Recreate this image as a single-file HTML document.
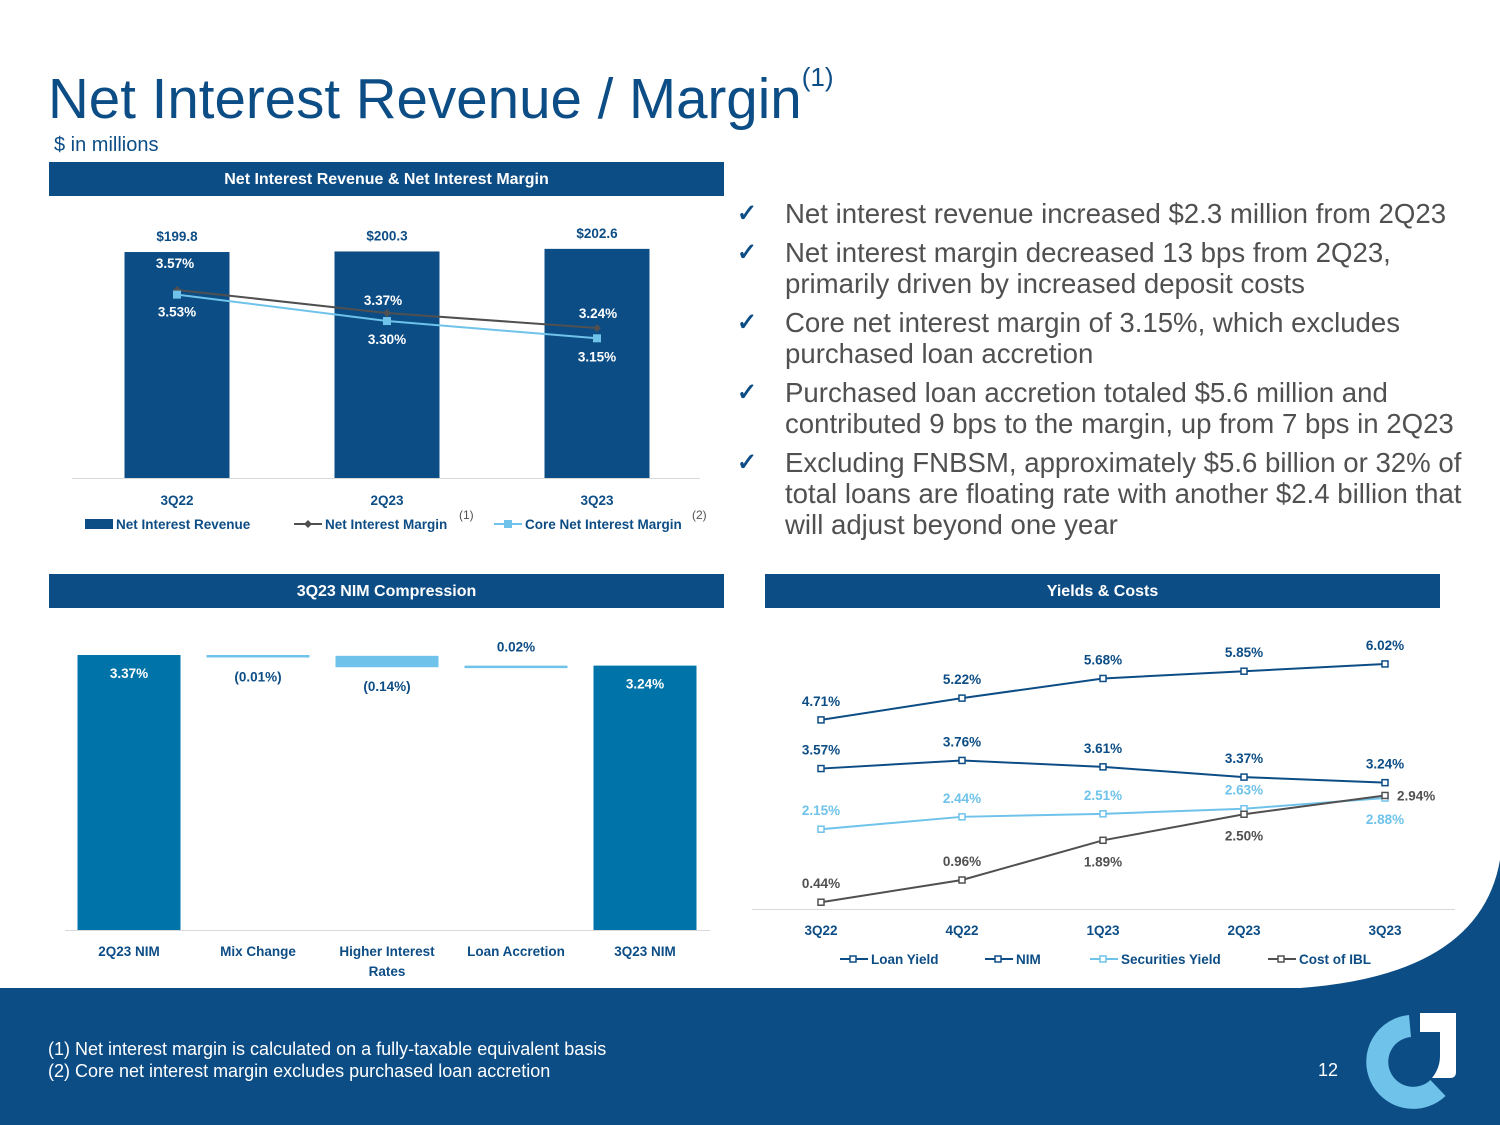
<!DOCTYPE html>
<html><head><meta charset="utf-8">
<style>
body{margin:0;width:1500px;height:1125px;overflow:hidden;background:#fff;font-family:"Liberation Sans",sans-serif;position:relative}
.abs{position:absolute}
.hdr{position:absolute;background:#0d4d85;color:#fff;font-weight:bold;font-size:16px;text-align:center;line-height:36px;height:34px}
.b{color:#505050;font-size:27.6px;line-height:31px}
.b li{list-style:none;position:relative;margin-bottom:8px}
.b li:before{content:"✓";position:absolute;left:-48px;color:#0d4d85;font-size:24px;font-weight:bold}
svg text{font-family:"Liberation Sans",sans-serif;font-weight:bold;font-size:13.5px}
</style></head><body>
<svg class="abs" style="left:0;top:0" width="1500" height="1125">
<path d="M0,988 L1300,988 Q1480,975 1500,860 L1500,1125 L0,1125 Z" fill="#0d4d85"/>
<g>
<path d="M1410,1026 A36,36 0 1,0 1438,1088" fill="none" stroke="#6fc3ea" stroke-width="22"/>
<path d="M1420,1013 L1456,1013 L1456,1072 Q1456,1078 1450,1078 L1432,1078 Q1440,1068 1440,1056 L1440,1032 L1420,1032 Z" fill="#fff"/>
</g>
</svg>
<div class="abs" style="left:48px;top:66px;font-size:56.5px;color:#0d4d85">Net Interest Revenue / Margin<sup style="font-size:26px;position:relative;top:-4px;vertical-align:top">(1)</sup></div>
<div class="abs" style="left:54px;top:134px;font-size:20px;color:#0d4d85">$ in millions</div>
<div class="hdr" style="left:49px;top:162px;width:675px">Net Interest Revenue &amp; Net Interest Margin</div>
<div class="hdr" style="left:49px;top:574px;width:675px">3Q23 NIM Compression</div>
<div class="hdr" style="left:765px;top:574px;width:675px">Yields &amp; Costs</div>
<ul class="b abs" style="left:785px;top:198px;margin:0;padding:0;width:700px">
<li>Net interest revenue increased $2.3 million from 2Q23</li>
<li>Net interest margin decreased 13 bps from 2Q23,<br>primarily driven by increased deposit costs</li>
<li>Core net interest margin of 3.15%, which excludes purchased loan accretion</li>
<li>Purchased loan accretion totaled $5.6 million and contributed 9 bps to the margin, up from 7 bps in 2Q23</li>
<li>Excluding FNBSM, approximately $5.6 billion or 32% of total loans are floating rate with another $2.4 billion that will adjust beyond one year</li>
</ul>
<div class="abs" style="left:48px;top:1038px;color:#fff;font-size:18px;line-height:22px">(1) Net interest margin is calculated on a fully-taxable equivalent basis<br>(2) Core net interest margin excludes purchased loan accretion</div>
<div class="abs" style="left:1318px;top:1060px;color:#fff;font-size:18px">12</div>
<svg class="abs" style="left:0;top:0" width="1500" height="1125" id="ch"></svg>
<script>
const q1=["3Q22","2Q23","3Q23"];
const nir=[199.8,200.3,202.6];
const nim=[3.57,3.37,3.24];
const core=[3.53,3.30,3.15];
const wfCats=["2Q23 NIM","Mix Change","Higher Interest|Rates","Loan Accretion","3Q23 NIM"];
const wfVals=[3.37,-0.01,-0.14,0.02,3.24];
const wfLabels=["3.37%","(0.01%)","(0.14%)","0.02%","3.24%"];
const yq=["3Q22","4Q22","1Q23","2Q23","3Q23"];
const loanY=[4.71,5.22,5.68,5.85,6.02];
const nimY=[3.57,3.76,3.61,3.37,3.24];
const secY=[2.15,2.44,2.51,2.63,2.88];
const ibl=[0.44,0.96,1.89,2.50,2.94];
const S=document.getElementById('ch'),NS="http://www.w3.org/2000/svg";
function el(t,a,txt){const e=document.createElementNS(NS,t);for(const k in a)e.setAttribute(k,a[k]);if(txt!==undefined)e.textContent=txt;S.appendChild(e);return e;}
function tx(x,y,s,c,anc){return el('text',{x:x,y:y,fill:c||'#0d4d85','text-anchor':anc||'middle'},s);}
// chart 1
const x1=i=>177+i*210, yb=v=>478-v*1.131, yl=v=>290-(v-3.57)*115;
el('line',{x1:72,x2:700,y1:478.5,y2:478.5,stroke:'#d9d9d9'});
nir.forEach((v,i)=>{const r=el('rect',{x:x1(i)-52.5,y:yb(v),width:105,height:478-yb(v),fill:'#0d4d85'});


tx(x1(i),yb(v)-11,'$'+v.toFixed(1));tx(x1(i),505,q1[i]);});
function line(xs,vals,yf,col,mk,name){const p=el('polyline',{points:vals.map((v,i)=>xs(i)+','+yf(v)).join(' '),fill:'none',stroke:col,'stroke-width':2});


vals.forEach((v,i)=>{if(mk==='d')el('path',{d:`M${xs(i)-4},${yf(v)} L${xs(i)},${yf(v)-4} L${xs(i)+4},${yf(v)} L${xs(i)},${yf(v)+4}Z`,fill:col});
else if(mk==='s')el('rect',{x:xs(i)-4,y:yf(v)-4,width:8,height:8,fill:col});
else el('rect',{x:xs(i)-3,y:yf(v)-3,width:6,height:6,fill:'#fff',stroke:col,'stroke-width':1.5});});}
line(x1,nim,yl,'#505050','d','nim-line');
line(x1,core,yl,'#6fc3ea','s','core-nim-line');
const nimOff=[-22,-8,-10],coreOff=[26,27,27];
nim.forEach((v,i)=>{tx(x1(i)-(i===0?2:(i===1?4:-1)),yl(v)+nimOff[i],v.toFixed(2)+'%','#fff');});
core.forEach((v,i)=>tx(x1(i),yl(core[i])+coreOff[i]-4,v.toFixed(2)+'%','#fff'));
// legend 1
el('rect',{x:85,y:519,width:28,height:10,fill:'#0d4d85'});tx(116,529,'Net Interest Revenue','#0d4d85','start');
el('line',{x1:294,x2:322,y1:524,y2:524,stroke:'#505050','stroke-width':2});el('path',{d:'M304,524 L308,520 L312,524 L308,528Z',fill:'#505050'});
tx(325,529,'Net Interest Margin','#0d4d85','start');tx(459,519,'(1)','#505050','start').setAttribute('style','font-weight:normal;font-size:12px');
el('line',{x1:494,x2:522,y1:524,y2:524,stroke:'#6fc3ea','stroke-width':2});el('rect',{x:504,y:520,width:8,height:8,fill:'#6fc3ea'});
tx(525,529,'Core Net Interest Margin','#0d4d85','start');tx(692,519,'(2)','#505050','start').setAttribute('style','font-weight:normal;font-size:12px');
// waterfall
const xw=i=>129+i*129, yw=v=>930-v*81.6;
el('line',{x1:65,x2:710,y1:930.5,y2:930.5,stroke:'#d9d9d9'});
let run=0;
wfVals.forEach((v,i)=>{let top,h,col;
if(i===0||i===wfVals.length-1){top=yw(v);h=930-top;col='#0073a8';run=v;}
else{const a=run,b=run+v;top=yw(Math.max(a,b));h=Math.max(yw(Math.min(a,b))-top,2.5);col='#6fc3ea';run=b;}
const r=el('rect',{x:xw(i)-51.5,y:top,width:103,height:h,fill:col});


const full=(i===0||i===wfVals.length-1);
tx(xw(i),full?top+23:(v>0?top-14:top+h+24),wfLabels[i],full?'#fff':'#0d4d85');
const parts=wfCats[i].split('|');parts.forEach((p,j)=>tx(xw(i),956+j*20,p));});
// yields
const xy=i=>821+i*141, yy=v=>921-v*42.7;
el('line',{x1:752,x2:1455,y1:909.5,y2:909.5,stroke:'#d9d9d9'});
yq.forEach((q,i)=>tx(xy(i),935,q));
line(xy,loanY,yy,'#0d4d85','o','loan-yield-line');
line(xy,nimY,yy,'#0d4d85','o','nim-yield-line');
line(xy,secY,yy,'#6fc3ea','o','securities-yield-line');
line(xy,ibl,yy,'#505050','o','cost-ibl-line');
loanY.forEach((v,i)=>tx(xy(i),yy(v)-14,v.toFixed(2)+'%'));
nimY.forEach((v,i)=>tx(xy(i),yy(v)-14,v.toFixed(2)+'%'));
secY.forEach((v,i)=>{tx(xy(i),i===4?yy(v)+26:yy(v)-14,v.toFixed(2)+'%','#6fc3ea');});
ibl.forEach((v,i)=>{if(i===4)tx(xy(i)+12,yy(v)+5,v.toFixed(2)+'%','#505050','start');else tx(xy(i),i>=2?yy(v)+26:yy(v)-14,v.toFixed(2)+'%','#505050');});
const lg=[["Loan Yield",'#0d4d85',840],["NIM",'#0d4d85',985],["Securities Yield",'#6fc3ea',1090],["Cost of IBL",'#505050',1268]];
lg.forEach(l=>{el('line',{x1:l[2],x2:l[2]+28,y1:959,y2:959,stroke:l[1],'stroke-width':2});el('rect',{x:l[2]+10,y:956,width:6,height:6,fill:'#fff',stroke:l[1],'stroke-width':1.5});tx(l[2]+31,964,l[0],'#0d4d85','start');});
</script>
</body></html>
